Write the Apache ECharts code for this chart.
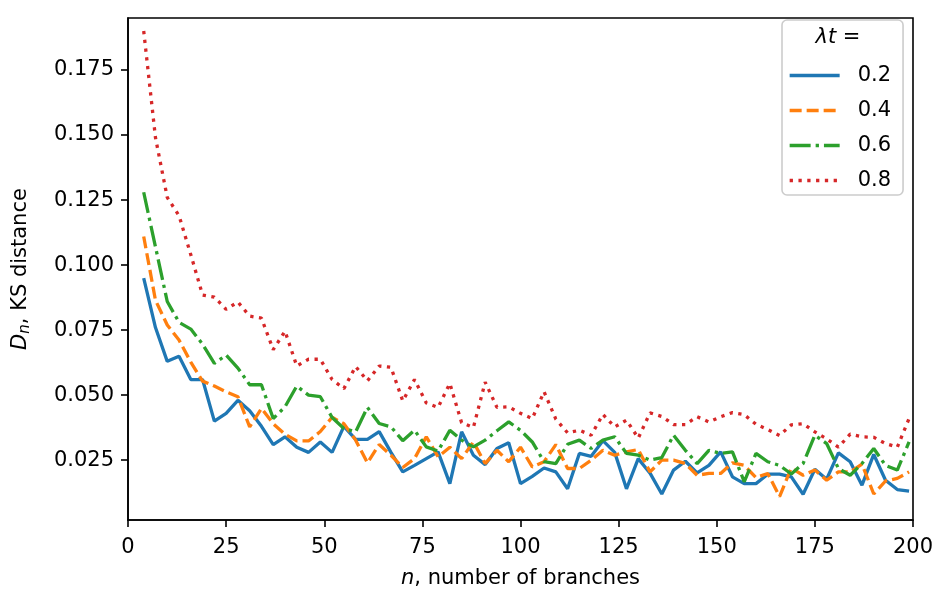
<!DOCTYPE html>
<html>
<head>
<meta charset="utf-8">
<script src="https://cdn.jsdelivr.net/npm/echarts@6/dist/echarts.min.js"></script>
<style>
  html, body { margin: 0; padding: 0; background: #fff; }
  #main { width: 943px; height: 594px; }
</style>
</head>
<body>
<div id="main"></div>
<script>
// n, number of branches
var branches = [4, 7, 10, 13, 16, 19, 22, 25, 28, 31, 34, 37, 40, 43, 46, 49, 52, 55, 58, 61,
  64, 67, 70, 73, 76, 79, 82, 85, 88, 91, 94, 97, 100, 103, 106, 109, 112, 115, 118, 121,
  124, 127, 130, 133, 136, 139, 142, 145, 148, 151, 154, 157, 160, 163, 166, 169, 172, 175, 178, 181,
  184, 187, 190, 193, 196, 199];

// KS distance for each lambda*t
var ks02 = [0.095, 0.076, 0.063, 0.065, 0.056, 0.056, 0.040, 0.043, 0.048, 0.044,
  0.038, 0.031, 0.034, 0.030, 0.028, 0.032, 0.028, 0.038, 0.033, 0.033,
  0.036, 0.028, 0.0205, 0.023, 0.0256, 0.0282, 0.016, 0.0359, 0.0269, 0.0233,
  0.0295, 0.0317, 0.016, 0.0188, 0.022, 0.0205, 0.014, 0.0276, 0.0265, 0.0325,
  0.028, 0.014, 0.0256, 0.020, 0.012, 0.0212, 0.0246, 0.0201, 0.023, 0.0282,
  0.0186, 0.016, 0.016, 0.0196, 0.0196, 0.0186, 0.0119, 0.0215, 0.0177, 0.0278,
  0.0244, 0.0154, 0.0272, 0.0173, 0.0137, 0.0131];
var ks04 = [0.111, 0.0865, 0.077, 0.0712, 0.0627, 0.0554, 0.0535, 0.0513, 0.0494, 0.0378,
  0.0449, 0.039, 0.035, 0.0324, 0.0324, 0.036, 0.0415, 0.039, 0.0327, 0.024,
  0.031, 0.0269, 0.0222, 0.0256, 0.034, 0.0263, 0.030, 0.0256, 0.032, 0.0237,
  0.0288, 0.0244, 0.030, 0.0224, 0.0244, 0.031, 0.0218, 0.0218, 0.025, 0.0288,
  0.0269, 0.0282, 0.0291, 0.0205, 0.025, 0.025, 0.0237, 0.0192, 0.0199, 0.0199,
  0.024, 0.023, 0.0183, 0.0199, 0.011, 0.022, 0.0192, 0.0212, 0.0173, 0.0205,
  0.0205, 0.0235, 0.012, 0.017, 0.018, 0.0205];
var ks06 = [0.128, 0.107, 0.086, 0.078, 0.0754, 0.0696, 0.0622, 0.0654, 0.0604, 0.054,
  0.054, 0.041, 0.0455, 0.0535, 0.050, 0.0494, 0.0414, 0.0372, 0.0359, 0.0453,
  0.0391, 0.0378, 0.0325, 0.0365, 0.0301, 0.0285, 0.0365, 0.0327, 0.0301, 0.0327,
  0.0363, 0.0397, 0.0365, 0.032, 0.0244, 0.0237, 0.0311, 0.0327, 0.0295, 0.0327,
  0.034, 0.0276, 0.0269, 0.025, 0.026, 0.0346, 0.0288, 0.0237, 0.0288, 0.0276,
  0.0282, 0.0167, 0.0276, 0.0244, 0.023, 0.0197, 0.0237, 0.0346, 0.0314, 0.0218,
  0.0192, 0.0237, 0.0295, 0.023, 0.0212, 0.032];
var ks08 = [0.190, 0.149, 0.126, 0.119, 0.104, 0.0885, 0.0877, 0.083, 0.0858, 0.0804,
  0.0796, 0.0675, 0.0746, 0.0612, 0.0638, 0.0638, 0.056, 0.0525, 0.061, 0.0555,
  0.0612, 0.0607, 0.0478, 0.056, 0.047, 0.0453, 0.0545, 0.0394, 0.0376, 0.055,
  0.0453, 0.0455, 0.043, 0.041, 0.0513, 0.0408, 0.0355, 0.0365, 0.0346, 0.0426,
  0.0378, 0.0404, 0.0335, 0.0432, 0.0418, 0.0387, 0.0387, 0.0417, 0.0397, 0.0417,
  0.0433, 0.0425, 0.0388, 0.0368, 0.0345, 0.0386, 0.039, 0.0359, 0.0332, 0.030,
  0.035, 0.034, 0.0338, 0.0314, 0.030, 0.041];

var seriesNames = ['0.2', '0.4', '0.6', '0.8'];
var yTicks = [0.025, 0.050, 0.075, 0.100, 0.125, 0.150, 0.175];

var FONT = 'DejaVu Sans';
var LW = 3.3;

function pairs(ys) {
  return branches.map(function (n, i) { return [n, ys[i]]; });
}

function makeLine(name, ys, color, dash) {
  return {
    name: name,
    type: 'line',
    data: pairs(ys),
    symbol: 'none',
    showSymbol: false,
    lineStyle: { color: color, width: LW, type: dash, cap: 'butt' },
    itemStyle: { color: color }
  };
}

var chart = echarts.init(document.getElementById('main'));
chart.setOption({
  animation: false,
  backgroundColor: '#fff',
  grid: {
    left: 128, right: 30, top: 18, bottom: 74,
    show: true, borderColor: '#000', borderWidth: 1.6, backgroundColor: 'transparent'
  },
  xAxis: {
    type: 'value',
    min: 0, max: 200, interval: 25,
    name: '{it|n}, number of branches',
    nameLocation: 'middle',
    nameGap: 48,
    nameTextStyle: {
      fontFamily: FONT, fontSize: 21, color: '#000',
      rich: { it: { fontFamily: FONT, fontSize: 21, fontStyle: 'italic', color: '#000' } }
    },
    axisLine: { lineStyle: { color: '#000', width: 1.6 } },
    axisTick: { length: 7, lineStyle: { color: '#000', width: 1.6 } },
    axisLabel: { fontFamily: FONT, fontSize: 21, color: '#000', margin: 17 },
    splitLine: { show: false }
  },
  yAxis: {
    type: 'value',
    min: 0.002, max: 0.195,
    name: '{it|D}{sub|n}, KS distance',
    nameLocation: 'middle',
    nameRotate: 90,
    nameGap: 95,
    nameTextStyle: {
      fontFamily: FONT, fontSize: 21, color: '#000',
      rich: {
        it: { fontFamily: FONT, fontSize: 21, fontStyle: 'italic', color: '#000' },
        sub: { fontFamily: FONT, fontSize: 15, fontStyle: 'italic', color: '#000', padding: [10, 0, 0, 0] }
      }
    },
    axisLine: { show: true, lineStyle: { color: '#000', width: 1.6 } },
    axisTick: { show: true, length: 7, customValues: yTicks, lineStyle: { color: '#000', width: 1.6 } },
    axisLabel: {
      fontFamily: FONT, fontSize: 21, color: '#000', margin: 14,
      customValues: yTicks,
      formatter: function (v) { return v.toFixed(3); }
    },
    splitLine: { show: false }
  },
  legend: {
    orient: 'vertical',
    left: 782, top: 20,
    padding: [45, 12, 4, 6],
    itemWidth: 50, itemHeight: 20, itemGap: 14,
    borderColor: '#cccccc', borderWidth: 1.6, borderRadius: 5,
    backgroundColor: 'rgba(255,255,255,0.8)',
    itemStyle: { opacity: 0 },
    lineStyle: { width: LW, type: 'inherit', cap: 'butt' },
    textStyle: { fontFamily: FONT, fontSize: 21, color: '#000', padding: [0, 0, 0, 13] },
    data: seriesNames
  },
  graphic: [{
    type: 'text',
    x: 838, y: 38,
    style: {
      text: '{it|λt} =',
      fontFamily: FONT, fontSize: 21, fill: '#000',
      align: 'center', verticalAlign: 'middle',
      rich: { it: { fontFamily: FONT, fontSize: 21, fontStyle: 'italic', fill: '#000' } }
    },
    z: 100
  }],
  series: [
    makeLine(seriesNames[0], ks02, '#1f77b4', 'solid'),
    makeLine(seriesNames[1], ks04, '#ff7f0e', [12, 5]),
    makeLine(seriesNames[2], ks06, '#2ca02c', [21, 5, 3.3, 5]),
    makeLine(seriesNames[3], ks08, '#d62728', [3.3, 5.5])
  ]
});
</script>
</body>
</html>
